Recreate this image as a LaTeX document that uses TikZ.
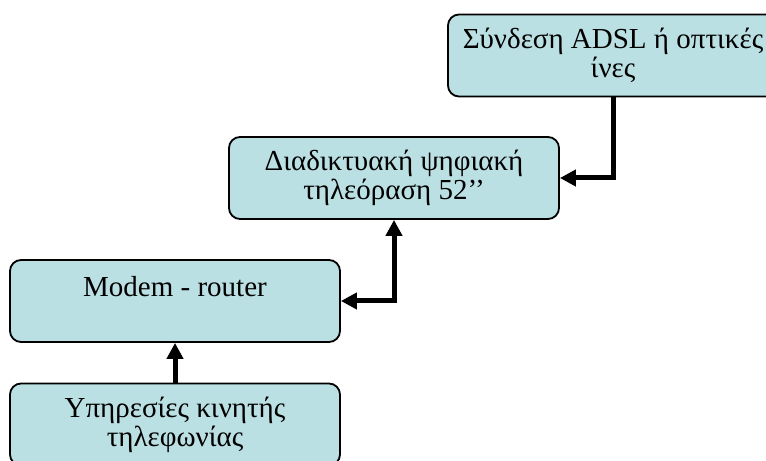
\documentclass[tikz,border=0pt]{standalone}
\usepackage{fontspec}
\setmainfont{Liberation Serif}
\usetikzlibrary{arrows.meta}
\definecolor{boxfill}{HTML}{BBE0E3}
\begin{document}
\begin{tikzpicture}[x=1bp,y=-1bp,
  block/.style={draw=black, line width=1.8bp, fill=boxfill, rounded corners=11bp,
    minimum width=330bp, minimum height=82bp, align=center, inner sep=0pt,
    font=\fontsize{29bp}{29bp}\selectfont},
  link/.style={line width=5bp, -{Triangle[length=16bp,width=16bp]}},
  twoway/.style={line width=5bp, {Triangle[length=16bp,width=16bp]}-{Triangle[length=16bp,width=16bp]}}]
\useasboundingbox (0,0) rectangle (766,461);
\clip (0,0) rectangle (766,461);
% the four stations of the home network
\node[block] (adsl)   at (613,55.5)  {Σύνδεση ADSL ή οπτικές\\ίνες};
\node[block] (tv)     at (394,178)   {Διαδικτυακή ψηφιακή\\τηλεόραση 52’’};
\node[block] (modem)  at (175,301)   {Modem - router\\~};
\node[block] (mobile) at (175,424.5) {Υπηρεσίες κινητής\\τηλεφωνίας};
% connections between them
\draw[link]   (adsl.south) |- (tv.east);
\draw[twoway] (modem.east) -| (tv.south);
\draw[link]   (mobile.north) -- (modem.south);
\end{tikzpicture}
\end{document}
